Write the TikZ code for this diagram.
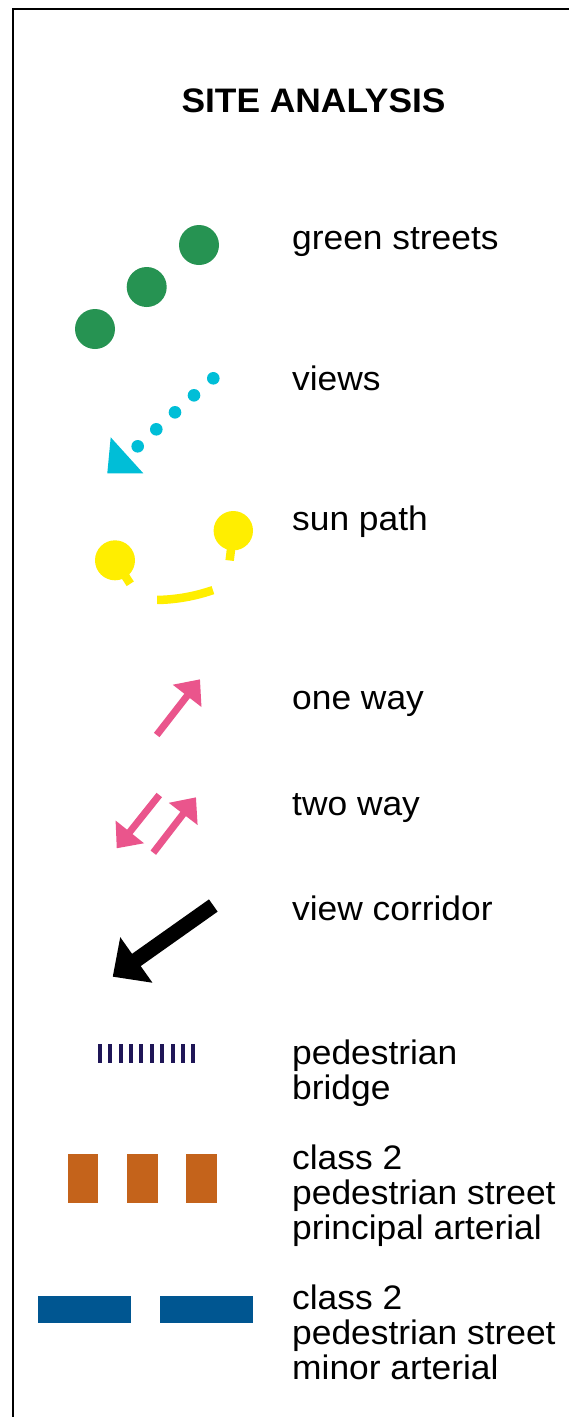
\documentclass[tikz,border=0pt]{standalone}
\usepackage{fontspec}
\setmainfont{Liberation Sans}[FakeStretch=1.04]
\usetikzlibrary{arrows.meta}
\definecolor{cgreen}{RGB}{38,147,82}
\definecolor{ccyan}{RGB}{0,190,215}
\definecolor{cyellow}{RGB}{255,238,0}
\definecolor{cpink}{RGB}{234,85,140}
\definecolor{cnavy}{RGB}{31,22,87}
\definecolor{corange}{RGB}{196,99,27}
\definecolor{cblue}{RGB}{0,86,145}
\begin{document}
\begin{tikzpicture}[x=1pt,y=1pt,
  lbl/.style={anchor=base west,inner sep=0pt,font=\fontsize{34}{35}\selectfont},
  pinkarrow/.style={draw=cpink,line width=7pt,-{Triangle[width=35pt,length=21pt]},fill=cpink},
  stem/.style={draw=cyellow,line width=8.5pt}]
\useasboundingbox (0,0) rectangle (569,-1417);
\fill[white] (0,0) rectangle (569,-1417);
% frame
\draw[line width=1.3pt] (569,-9) -- (13,-9) -- (13,-1417);
% title
\node[anchor=base,inner sep=0pt,font=\fontsize{34}{35}\selectfont\bfseries] (title) at (313.5,-112) {SITE ANALYSIS};
% green streets
\fill[cgreen] (95,-329) circle (20) (146.7,-287) circle (20) (199,-245) circle (20);
\node[lbl] (lgreen) at (292,-249) {green streets};
% views
\foreach \px/\py in {213.3/378.3,194/395.3,175/412.3,156.3/429.3,137.7/446.3}
  \fill[ccyan] (\px,-\py) circle (6.3);
\fill[ccyan] (110.7,-437.3) -- (107.3,-473.3) -- (143.3,-473.3) -- cycle;
\node[lbl] (lviews) at (292,-390.3) {views};
% sun path
\draw[stem] (115,-560.3) -- ++(-57:28);
\fill[cyellow] (115,-560.3) circle (20);
\draw[stem] (233.3,-530.7) -- ++(-97:30);
\fill[cyellow] (233.3,-530.7) circle (19.7);
\draw[cyellow,line width=8.5pt] (154,-420) ++(-89:180) arc[start angle=-89,end angle=-70.9,radius=180];
\node[lbl] (lsun) at (292,-530.3) {sun path};
% one way
\coordinate (ow1) at (156.7,-735);
\coordinate (ow2) at (200,-679.3);
\draw[pinkarrow] (ow1) -- (ow2);
\node[lbl] (lone) at (292,-709.3) {one way};
% two way
\coordinate (tw1) at (159.3,-795);
\coordinate (tw2) at (116.7,-848.3);
\coordinate (tw3) at (153.3,-852.7);
\coordinate (tw4) at (196,-797.3);
\draw[pinkarrow] (tw1) -- (tw2);
\draw[pinkarrow] (tw3) -- (tw4);
\node[lbl] (ltwo) at (292,-815) {two way};
% view corridor
\coordinate (vc1) at (213.3,-905.5);
\coordinate (vc2) at (112.7,-976.7);
\draw[black,fill=black,line width=15pt,-{Triangle[width=54pt,length=29pt]}] (vc1) -- (vc2);
\node[lbl] (lcorr) at (292,-920.5) {view corridor};
% pedestrian bridge
\foreach \i in {0,...,9}
  \fill[cnavy] ({100+10.37*\i-2},-1044) rectangle ({100+10.37*\i+2},-1063.3);
\node[lbl] (lbridge) at (292,-1064.5) {\begin{tabular}[t]{@{}l@{}}pedestrian\\bridge\end{tabular}};
% principal arterial
\fill[corange] (68.3,-1154) rectangle (98.3,-1202.7);
\fill[corange] (126.7,-1154) rectangle (157.7,-1202.7);
\fill[corange] (186,-1154) rectangle (217.3,-1202.7);
\node[lbl] (lprin) at (292,-1169.5) {\begin{tabular}[t]{@{}l@{}}class 2\\pedestrian street\\principal arterial\end{tabular}};
% minor arterial
\fill[cblue] (37.7,-1295.7) rectangle (130.7,-1322.7);
\fill[cblue] (160,-1295.7) rectangle (252.7,-1322.7);
\node[lbl] (lminor) at (292,-1309.5) {\begin{tabular}[t]{@{}l@{}}class 2\\pedestrian street\\minor arterial\end{tabular}};
\end{tikzpicture}
\end{document}
